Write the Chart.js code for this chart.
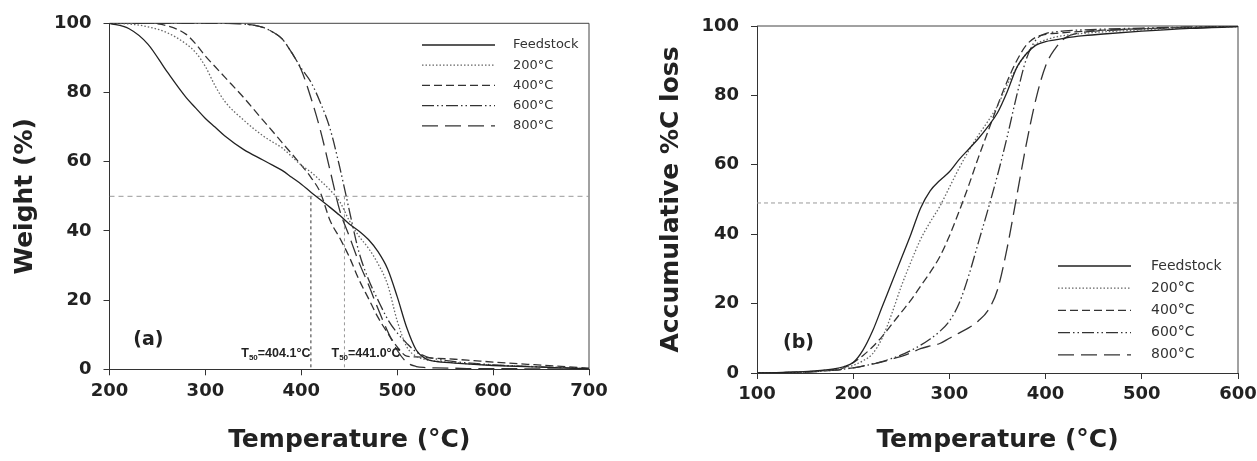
<!DOCTYPE html>
<html>
<head>
<meta charset="utf-8">
<script src="https://cdn.jsdelivr.net/npm/chart.js@4.4.1/dist/chart.umd.min.js"></script>
<style>
  body { margin: 0; background: #fff; }
  #wrap { position: relative; width: 1257px; height: 461px; overflow: hidden; }
  canvas { position: absolute; top: 0; }
  #chartA { left: 0; }
  #chartB { left: 628px; }
</style>
</head>
<body>
<div id="wrap">
  <canvas id="chartA" width="628" height="461"></canvas>
  <canvas id="chartB" width="629" height="461"></canvas>
</div>
<script>
// ---- data: panel (a) weight loss curves ----
const tempA = [200, 220, 240, 260, 280, 290, 300, 310, 320, 340, 360, 370, 380, 390, 400, 410, 420, 430, 440, 450, 460, 470, 480, 490, 500, 510, 520, 530, 540, 560, 580, 600, 650, 700];
const feedA = [100, 98.5, 94, 86, 78.5, 75.5, 72.5, 70, 67.5, 63.5, 60.5, 59, 57.5, 55.5, 53.5, 51.2, 49, 46.8, 44.5, 42, 40, 37.5, 34, 29, 21, 12, 5.5, 3, 2.3, 1.8, 1.4, 1.1, 0.6, 0.1];
const c200A = [100, 99.8, 99, 97.3, 94, 91.5, 87.5, 82, 77.5, 72, 67.5, 65.7, 64, 61.5, 59, 57, 54.5, 51.8, 48.5, 43, 38.5, 35, 30.5, 24.5, 14, 6.5, 3.7, 2.8, 2.4, 1.9, 1.5, 1.2, 0.7, 0.2];
const c400A = [100, 100, 100, 99.3, 96.8, 94, 90.5, 87.5, 84.5, 78.5, 72, 68.8, 65.5, 62.3, 59, 55.5, 51, 43, 38, 32.5, 26, 20.5, 15, 10.5, 6.5, 3.8, 3.6, 3.4, 3.2, 2.9, 2.5, 2.1, 1.2, 0.3];
const c600A = [100, 100, 100, 100, 100, 100, 100, 100, 100, 99.8, 98.8, 97.5, 95.5, 91.5, 87, 83, 77, 69.5, 58.5, 46, 34, 26, 20, 14.5, 10.5, 7.5, 5, 3.7, 3, 2.2, 1.7, 1.3, 0.7, 0.2];
const c800A = [100, 100, 100, 100, 100, 100, 100, 100, 100, 99.8, 98.8, 97.5, 95.5, 91.5, 86.5, 78.5, 69, 57.5, 46, 38.5, 31, 24.5, 17.5, 11, 5.5, 2, 0.8, 0.5, 0.4, 0.3, 0.2, 0.2, 0.1, 0];

// ---- data: panel (b) accumulative carbon loss ----
const tempB = [100, 120, 140, 160, 180, 190, 200, 210, 220, 230, 240, 250, 260, 270, 280, 290, 300, 310, 320, 330, 340, 350, 360, 370, 380, 390, 400, 410, 420, 440, 460, 500, 550, 600];
const feedB = [0, 0.1, 0.3, 0.6, 1.2, 1.8, 3, 6.5, 12, 19, 26, 33, 40, 47.5, 52.5, 55.5, 58, 61.5, 64.5, 67.5, 71, 75, 81, 88, 92, 94.5, 95.5, 96, 96.5, 97.2, 97.7, 98.5, 99.3, 99.8];
const c200B = [0, 0.1, 0.2, 0.5, 1, 1.5, 2.2, 3.5, 5.5, 10, 17, 25, 32, 38.5, 43.5, 48, 53.5, 59, 64, 68.5, 72.5, 77, 83, 88, 92, 94.8, 96, 96.8, 97.3, 97.9, 98.3, 98.9, 99.5, 99.8];
const c400B = [0, 0.1, 0.2, 0.5, 1, 1.5, 3, 5, 7.5, 10.5, 14, 17.5, 21, 25, 29, 33.5, 39.5, 46.5, 54, 62, 69.5, 77, 84, 90, 94.5, 96.8, 97.6, 97.9, 98.1, 98.5, 98.8, 99.2, 99.6, 99.9];
const c600B = [0, 0.1, 0.2, 0.4, 0.8, 1.1, 1.5, 2, 2.6, 3.3, 4.2, 5.2, 6.5, 8, 9.8, 12, 15, 20, 28, 37.5, 47, 57, 68, 80, 90.5, 96, 97.8, 98.3, 98.6, 98.9, 99.1, 99.4, 99.7, 99.9];
const c800B = [0, 0.1, 0.2, 0.4, 0.8, 1.1, 1.5, 2, 2.6, 3.2, 4, 4.8, 5.8, 7, 7.8, 8.5, 10, 11.5, 13, 15, 18, 24, 36, 51, 66, 79, 88.5, 93.5, 96.5, 98.2, 98.7, 99.2, 99.6, 99.9];

// ---- labels, ticks, reference lines ----
const seriesNames = ['Feedstock', '200\u00B0C', '400\u00B0C', '600\u00B0C', '800\u00B0C'];
const pctTicks = [0, 20, 40, 60, 80, 100];
const tempTicksA = [200, 300, 400, 500, 600, 700];
const tempTicksB = [100, 200, 300, 400, 500, 600];
const halfLineA = [50, 50];
const halfLineB = [49, 49];
const t50Temps = [410, 445];
const t50Labels = ['=404.1\u00B0C', '=441.0\u00B0C'];

// ---- styles ----
const seriesStyle = [
  { color: '#222', dash: [] },
  { color: '#666', dash: [1.5, 2] },
  { color: '#333', dash: [8, 4] },
  { color: '#333', dash: [12, 3, 1.5, 3, 1.5, 3] },
  { color: '#333', dash: [16, 7] }
];
const tickFont = { family: 'DejaVu Sans', weight: 'bold', size: 18 };
const titleFont = { family: 'DejaVu Sans', weight: 'bold', size: 25 };

function pts(xs, ys) {
  return xs.map((x, i) => ({ x: x, y: ys[i] }));
}

function curveSets(temps, list) {
  return list.map((vals, i) => ({
    label: seriesNames[i],
    data: pts(temps, vals),
    borderColor: seriesStyle[i].color,
    borderDash: seriesStyle[i].dash,
    borderWidth: 1.3,
    pointRadius: 0,
    fill: false,
    cubicInterpolationMode: 'monotone'
  }));
}

function refSet(xs, ys, color, dash) {
  return {
    label: '',
    isRef: true,
    data: pts(xs, ys),
    borderColor: color,
    borderDash: dash,
    borderWidth: 1,
    pointRadius: 0,
    fill: false
  };
}

// box top + right edge
const framePlugin = {
  id: 'frame',
  beforeDatasetsDraw(chart) {
    const { ctx, chartArea: a } = chart;
    ctx.save();
    ctx.strokeStyle = '#444';
    ctx.lineWidth = 1;
    ctx.beginPath();
    ctx.moveTo(a.left, a.top);
    ctx.lineTo(a.right, a.top);
    ctx.lineTo(a.right, a.bottom);
    ctx.stroke();
    ctx.restore();
  }
};

// legend drawn inside the plot with each dataset's own dash
const legendPlugin = {
  id: 'innerLegend',
  afterDatasetsDraw(chart, args, o) {
    const { ctx } = chart;
    ctx.save();
    ctx.font = o.size + 'px "DejaVu Sans"';
    ctx.textBaseline = 'middle';
    chart.data.datasets.forEach((ds, i) => {
      if (ds.isRef) return;
      const y = o.y + i * o.gap;
      ctx.strokeStyle = ds.borderColor;
      ctx.lineWidth = 1.3;
      ctx.setLineDash(ds.borderDash);
      ctx.beginPath();
      ctx.moveTo(o.x1, y);
      ctx.lineTo(o.x2, y);
      ctx.stroke();
      ctx.setLineDash([]);
      ctx.fillStyle = '#333';
      ctx.fillText(ds.label, o.tx, y);
    });
    ctx.restore();
  }
};

// panel letters and T50 notes, anchored to data coordinates
const notesPlugin = {
  id: 'notes',
  afterDatasetsDraw(chart, args, o) {
    const { ctx, scales: { x, y } } = chart;
    ctx.save();
    ctx.fillStyle = '#222';
    ctx.textBaseline = 'middle';
    ctx.font = 'bold 19px "DejaVu Sans"';
    ctx.fillText(o.panel, x.getPixelForValue(o.panelAt[0]), y.getPixelForValue(o.panelAt[1]));
    (o.t50 || []).forEach(n => {
      const big = 'bold 12.5px "Liberation Sans"';
      const small = 'bold 8px "Liberation Sans"';
      ctx.font = big;
      const wT = ctx.measureText('T').width;
      const wR = ctx.measureText(n.text).width;
      ctx.font = small;
      const wS = ctx.measureText('50').width;
      const total = wT + wS + wR;
      let px = x.getPixelForValue(n.at[0]);
      if (n.align === 'right') px -= total;
      const py = y.getPixelForValue(n.at[1]);
      ctx.font = big;
      ctx.fillText('T', px, py);
      ctx.font = small;
      ctx.fillText('50', px + wT, py + 4);
      ctx.font = big;
      ctx.fillText(n.text, px + wT + wS, py);
    });
    ctx.restore();
  }
};

function makeChart(id, cfg) {
  const axisX = {
    type: 'linear',
    min: cfg.xTicks[0],
    max: cfg.xTicks[cfg.xTicks.length - 1],
    afterBuildTicks: s => { s.ticks = cfg.xTicks.map(v => ({ value: v })); },
    afterFit: s => { s.height = cfg.xHeight; s.paddingLeft = 0; s.paddingRight = 0; },
    ticks: { font: tickFont, color: '#222', padding: 5, maxRotation: 0, autoSkip: false },
    grid: { drawOnChartArea: false, tickLength: 6, color: '#333' },
    border: { color: '#333', width: 1 },
    title: { display: true, text: 'Temperature (\u00B0C)', font: titleFont, color: '#222', padding: { top: 0, bottom: 6 } }
  };
  const axisY = {
    type: 'linear',
    min: 0,
    max: 100,
    afterBuildTicks: s => { s.ticks = pctTicks.map(v => ({ value: v })); },
    afterFit: s => { s.width = cfg.yWidth; s.paddingTop = 0; s.paddingBottom = 0; },
    ticks: { font: tickFont, color: '#222', padding: 12 },
    grid: { drawOnChartArea: false, tickLength: 6, color: '#333' },
    border: { color: '#333', width: 1 },
    title: { display: true, text: cfg.yTitle, font: titleFont, color: '#222', padding: { top: cfg.yTitlePad, bottom: 0 } }
  };
  return new Chart(document.getElementById(id), {
    type: 'line',
    data: { datasets: cfg.datasets },
    options: {
      responsive: false,
      animation: false,
      layout: { padding: cfg.pad },
      scales: { x: axisX, y: axisY },
      plugins: {
        legend: { display: false },
        tooltip: { enabled: false },
        innerLegend: cfg.legend,
        notes: cfg.notes
      }
    },
    plugins: [framePlugin, legendPlugin, notesPlugin]
  });
}

makeChart('chartA', {
  xTicks: tempTicksA,
  xHeight: 461 - 369.3,
  yWidth: 109.5,
  yTitle: 'Weight (%)',
  yTitlePad: 10,
  pad: { top: 23.3, right: 628 - 589, bottom: 0, left: 0 },
  datasets: curveSets(tempA, [feedA, c200A, c400A, c600A, c800A]).concat([
    refSet([tempTicksA[0], tempTicksA[5]], halfLineA, '#999', [5, 4]),
    refSet([t50Temps[0], t50Temps[0]], [halfLineA[0], 0], '#333', [3, 3]),
    refSet([t50Temps[1], t50Temps[1]], [halfLineA[0], 0], '#999', [3, 3])
  ]),
  legend: { x1: 422, x2: 495, tx: 513, y: 45, gap: 20.2, size: 13 },
  notes: {
    panel: '(a)', panelAt: [224.8, 8.5],
    t50: [
      { text: t50Labels[0], at: [t50Temps[0] - 0.5, 4.6], align: 'right' },
      { text: t50Labels[1], at: [431.5, 4.6], align: 'left' }
    ]
  }
});

makeChart('chartB', {
  xTicks: tempTicksB,
  xHeight: 461 - 373,
  yWidth: 757 - 628,
  yTitle: 'Accumulative %C loss',
  yTitlePad: 28,
  pad: { top: 26, right: 629 - (1238 - 628), bottom: 0, left: 0 },
  datasets: curveSets(tempB, [feedB, c200B, c400B, c600B, c800B]).concat([
    refSet([tempTicksB[0], tempTicksB[5]], halfLineB, '#999', [4, 3])
  ]),
  legend: { x1: 1058 - 628, x2: 1131 - 628, tx: 1151 - 628, y: 266, gap: 22.2, size: 14 },
  notes: { panel: '(b)', panelAt: [127, 8.6] }
});
</script>
</body>
</html>
